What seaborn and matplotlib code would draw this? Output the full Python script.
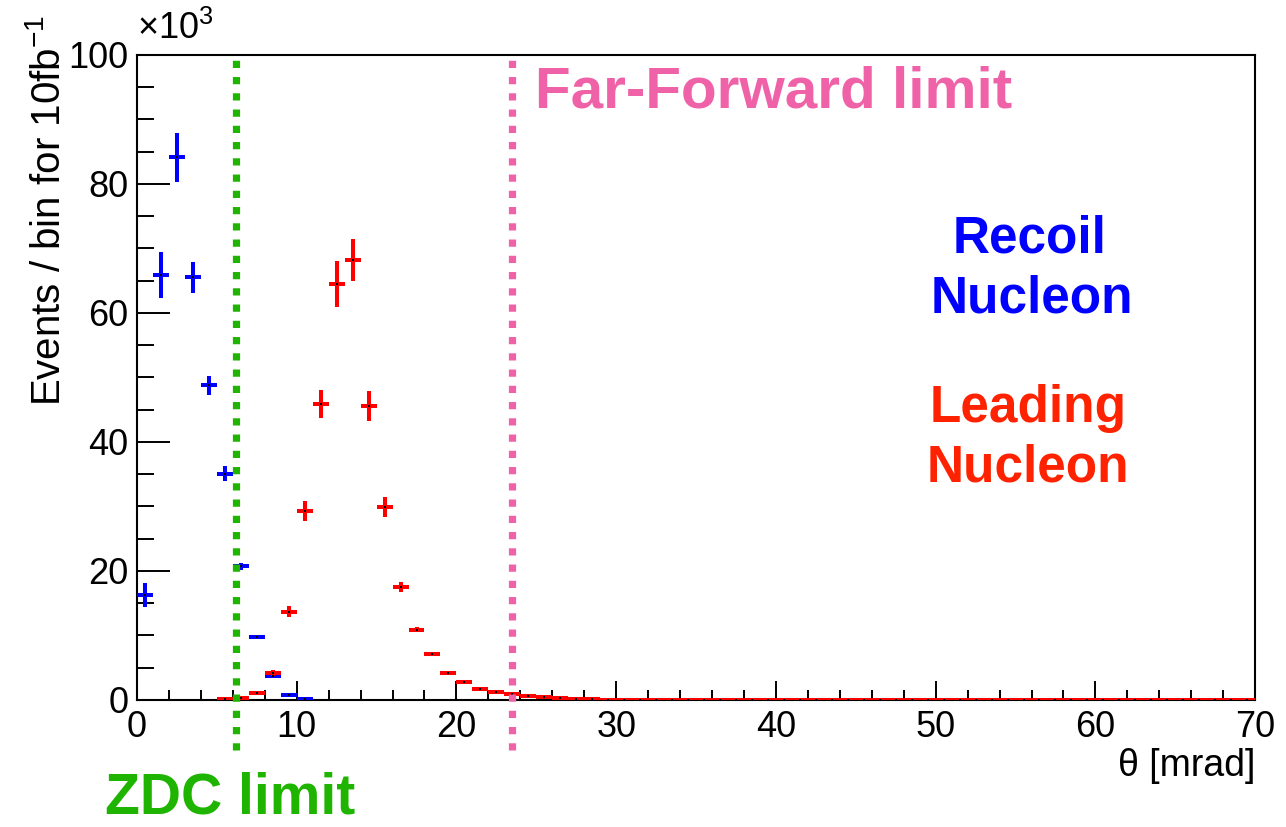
import numpy as np
import pandas as pd
import seaborn as sns
import matplotlib.pyplot as plt
from matplotlib.ticker import MultipleLocator

# theta bin centres [mrad], 1 mrad bins; counts in units of 10^3
recoil_theta = [0.5, 1.5, 2.5, 3.5, 4.5, 5.5, 6.5, 7.5, 8.5, 9.5, 10.5]
recoil_counts = [16.3, 65.9, 84.1, 65.5, 48.8, 35.1, 20.7, 9.7, 3.7, 0.8, 0.08]
recoil_err = [1.9, 3.6, 3.8, 2.4, 1.5, 1.1, 0.5, 0.3, 0.3, 0.1, 0.05]

leading_theta = [5.5, 6.5, 7.5, 8.5, 9.5, 10.5, 11.5, 12.5, 13.5, 14.5,
                 15.5, 16.5, 17.5, 18.5, 19.5, 20.5, 21.5, 22.5, 23.5, 24.5,
                 25.5, 26.5, 27.5, 28.5, 29.5, 30.5, 31.5, 32.5, 33.5, 34.5,
                 35.5, 36.5, 37.5, 38.5, 39.5, 40.5, 41.5, 42.5, 43.5, 44.5,
                 45.5, 46.5, 47.5, 48.5, 49.5, 50.5, 51.5, 52.5, 53.5, 54.5,
                 55.5, 56.5, 57.5, 58.5, 59.5, 60.5, 61.5, 62.5, 63.5, 64.5,
                 65.5, 66.5, 67.5, 68.5, 69.5]
leading_counts = [0.1, 0.3, 1.1, 4.2, 13.7, 29.3, 45.9, 64.5, 68.2, 45.6,
                  29.9, 17.5, 10.9, 7.1, 4.2, 2.8, 1.7, 1.2, 0.9, 0.6,
                  0.4, 0.25, 0.15, 0.1, 0.06, 0.04, 0.03, 0.02, 0.02, 0.01,
                  0.01, 0.01, 0.0, 0.0, 0.0, 0.0, 0.0, 0.0, 0.0, 0.0,
                  0.0, 0.0, 0.0, 0.0, 0.0, 0.0, 0.0, 0.0, 0.0, 0.0,
                  0.0, 0.0, 0.0, 0.0, 0.0, 0.0, 0.0, 0.0, 0.0, 0.0,
                  0.0, 0.0, 0.0, 0.0, 0.0]
leading_err = [0.05, 0.1, 0.2, 0.5, 0.8, 1.6, 2.2, 3.6, 3.3, 2.3,
               1.5, 0.8, 0.4, 0.3, 0.2, 0.15, 0.1, 0.1, 0.08, 0.06,
               0.05, 0.04, 0.03, 0.02, 0.02, 0.01, 0.01, 0.01, 0.01, 0.0,
               0.0, 0.0, 0.0, 0.0, 0.0, 0.0, 0.0, 0.0, 0.0, 0.0,
               0.0, 0.0, 0.0, 0.0, 0.0, 0.0, 0.0, 0.0, 0.0, 0.0,
               0.0, 0.0, 0.0, 0.0, 0.0, 0.0, 0.0, 0.0, 0.0, 0.0,
               0.0, 0.0, 0.0, 0.0, 0.0]

zdc_limit = 6.18
ff_limit = 23.5

sns.set_style('ticks')
plt.rcParams['font.family'] = ['Liberation Sans', 'DejaVu Sans']
plt.rcParams['mathtext.fontset'] = 'custom'
plt.rcParams['mathtext.rm'] = 'Liberation Sans'
plt.rcParams['mathtext.it'] = 'Liberation Sans:italic'
plt.rcParams['text.color'] = 'black'
plt.rcParams['axes.labelcolor'] = 'black'
plt.rcParams['xtick.color'] = 'black'
plt.rcParams['ytick.color'] = 'black'

green = '#1FB400'
pink = '#F062A8'

fig = plt.figure(figsize=(12.86, 8.27), dpi=100)
ax = fig.add_axes([0.1065, 0.1536, 0.8695, 0.78])

rec = pd.DataFrame({'theta': recoil_theta, 'n': recoil_counts, 'err': recoil_err})
lead = pd.DataFrame({'theta': leading_theta, 'n': leading_counts, 'err': leading_err})

for df, col in [(rec, '#0000FF'), (lead, '#FF0000')]:
    ax.errorbar(df['theta'], df['n'], xerr=0.5, yerr=df['err'], fmt='none',
                ecolor=col, elinewidth=2.9, capsize=0, zorder=3)
    sns.scatterplot(data=df, x='theta', y='n', ax=ax, color='black', marker='s',
                    s=3, linewidth=0, zorder=4, legend=False)

# limit lines, running below the frame
for xv, col in [(zdc_limit, green), (ff_limit, pink)]:
    ax.axvline(xv, ymin=-0.078, ymax=1.0, color=col, lw=5.2,
               linestyle=(0, (1, 1.25)), clip_on=False, zorder=5)

ax.set_xlim(0, 70)
ax.set_ylim(0, 100)
ax.xaxis.set_major_locator(MultipleLocator(10))
ax.xaxis.set_minor_locator(MultipleLocator(2))
ax.yaxis.set_major_locator(MultipleLocator(20))
ax.yaxis.set_minor_locator(MultipleLocator(5))
ax.tick_params(axis='x', which='major', direction='in', length=14, width=1.4,
               labelsize=26, pad=7)
ax.tick_params(axis='x', which='minor', direction='in', length=7, width=1.4)
ax.tick_params(axis='y', which='major', direction='in', length=24, width=1.4,
               labelsize=26, pad=6)
ax.tick_params(axis='y', which='minor', direction='in', length=12, width=1.4)
for sp in ax.spines.values():
    sp.set_visible(True)
    sp.set_linewidth(1.5)
    sp.set_color('black')

ax.set_xlabel('θ [mrad]', fontsize=27, loc='right')
ax.xaxis.set_label_coords(1.0, -0.075)
ax.set_ylabel(r'Events / bin for 10fb$^{-1}$', fontsize=29, loc='top')
ax.yaxis.set_label_coords(-0.062, 1.062)
ax.text(0.0, 1.012, r'$\times$10$^{3}$', transform=ax.transAxes, fontsize=26,
        ha='left', va='bottom')

ax.text(24.9, 91.8, 'Far-Forward limit', color=pink, fontsize=42,
        fontweight='bold', ha='left', va='baseline')
ax.text(55.9, 69.3, 'Recoil', color='#0000FF', fontsize=37,
        fontweight='bold', ha='center', va='baseline')
ax.text(56.0, 60.0, 'Nucleon', color='#0000FF', fontsize=37,
        fontweight='bold', ha='center', va='baseline')
ax.text(55.8, 43.1, 'Leading', color='#FF2200', fontsize=37,
        fontweight='bold', ha='center', va='baseline')
ax.text(55.8, 33.8, 'Nucleon', color='#FF2200', fontsize=37,
        fontweight='bold', ha='center', va='baseline')
ax.text(-2.0, -17.6, 'ZDC limit', color=green, fontsize=41,
        fontweight='bold', ha='left', va='baseline', clip_on=False)

fig.savefig('out.png', dpi=100)
